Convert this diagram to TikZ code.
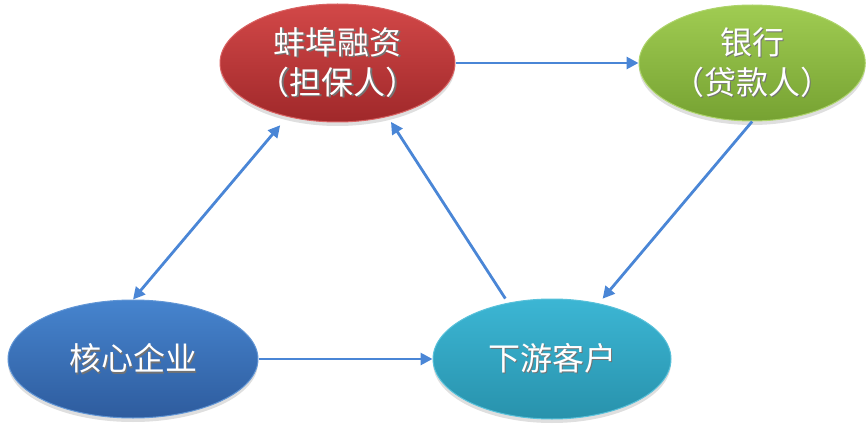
\documentclass[tikz,border=0pt]{standalone}
\usepackage{fontspec}
\setmainfont{Noto Sans CJK SC}
\usetikzlibrary{positioning,shapes.geometric,shadows,arrows.meta}

\definecolor{arrowblue}{RGB}{74,134,214}
\definecolor{redtop}{RGB}{210,72,72}
\definecolor{redbot}{RGB}{160,40,42}
\definecolor{greentop}{RGB}{160,204,82}
\definecolor{greenbot}{RGB}{118,162,50}
\definecolor{bluetop}{RGB}{70,132,206}
\definecolor{bluebot}{RGB}{46,92,158}
\definecolor{cyantop}{RGB}{60,182,212}
\definecolor{cyanbot}{RGB}{40,146,172}

\newcommand\stext[1]{\makebox[0pt][l]{\kern1.5pt\raisebox{-1.5pt}{\color{black!55}#1}}#1}

\tikzset{
  party/.style={ellipse, inner sep=0pt, text=white, align=center,
    font=\fontsize{32}{40}\selectfont, line width=1pt,
    drop shadow={opacity=0.25, shadow xshift=0pt, shadow yshift=-4pt}},
  tip/.tip={Triangle[length=12pt,width=12pt]},
  flow/.style={draw=arrowblue, line width=2.8pt, -tip},
}

\begin{document}
\begin{tikzpicture}[x=1pt,y=1pt]
  \useasboundingbox (0,0) rectangle (868,432);
  %
  \node[party, minimum width=235pt, minimum height=118pt,
        top color=redtop, bottom color=redbot, draw=redtop!85!white]
        at (337.5,369) (guar) {\stext{蚌埠融资}\\\stext{（担保人）}};
  \node[party, minimum width=222pt, minimum height=116pt,
        top color=greentop, bottom color=greenbot, draw=greentop!85!white,
        right=183pt of guar] (bank) {\stext{银行}\\\stext{（贷款人）}};
  \node[party, minimum width=250pt, minimum height=118pt,
        top color=bluetop, bottom color=bluebot, draw=bluetop!85!white]
        at (133,73) (core) {\stext{核心企业}};
  \node[party, minimum width=238pt, minimum height=120pt,
        top color=cyantop, bottom color=cyanbot, draw=cyantop!85!white,
        right=174pt of core] (down) {\stext{下游客户}};
  %
  \draw[flow] (guar.east) -- (bank.west);
  \draw[flow, shorten >=6pt] (bank.south) -- (down.50);
  \draw[flow, shorten <=5pt, shorten >=6pt] (down.128) -- (guar.313);
  \draw[flow, tip-tip, shorten >=11pt] (core.north) -- (guar.227);
  \draw[flow] (core.east) -- (down.west);
\end{tikzpicture}
\end{document}
